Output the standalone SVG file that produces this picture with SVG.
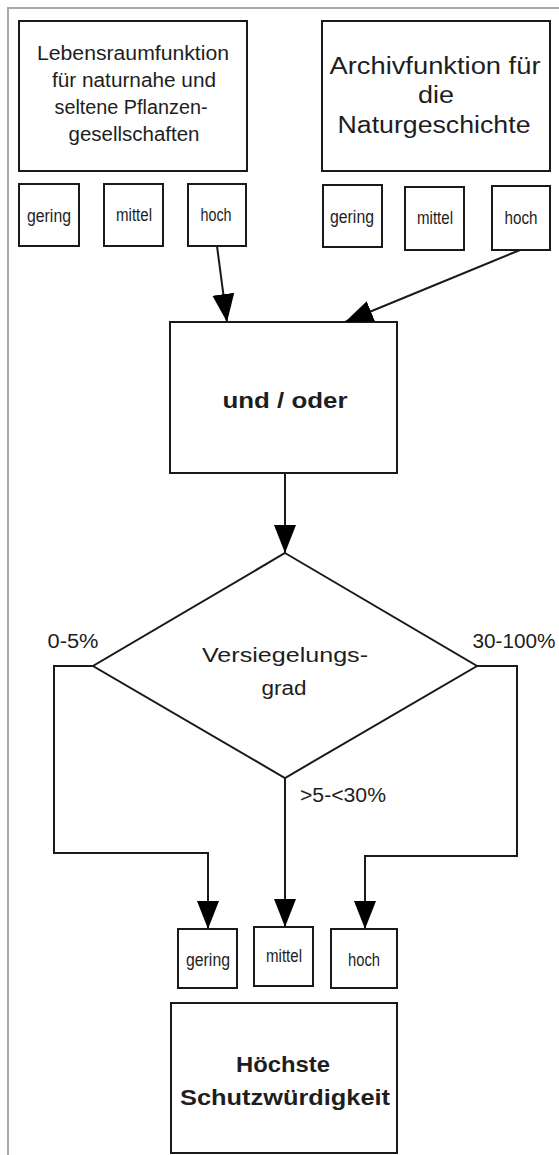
<svg xmlns="http://www.w3.org/2000/svg" width="559" height="1155" viewBox="0 0 559 1155">
<style>
.box{fill:#fff;stroke:#1a1a1a;stroke-width:2}
.ln{fill:none;stroke:#1a1a1a;stroke-width:2}
.t{font-family:"Liberation Sans",Arial,sans-serif;fill:#1e1e1e;text-anchor:middle}
.big{font-size:20px}
.arc{font-size:23px}
.sm{font-size:18px;letter-spacing:0}
.b{font-weight:bold}
</style>
<defs>
<marker id="ah" markerUnits="userSpaceOnUse" markerWidth="30" markerHeight="24" refX="28" refY="11" orient="auto" viewBox="0 0 30 24">
<path d="M0,0 L28,11 L0,22 z" fill="#000"/>
</marker>
</defs>
<rect width="559" height="1155" fill="#fff"/>
<g id="frame"><path d="M8,1155 L8,8 L559,8" fill="none" stroke="#a8a8a8" stroke-width="2"/></g>

<g id="lebensraum">
<rect class="box" x="19" y="21" width="228" height="150"/>
<text class="t big" x="133" y="60" textLength="192" lengthAdjust="spacingAndGlyphs">Lebensraumfunktion</text>
<text class="t big" x="134" y="87" textLength="164" lengthAdjust="spacingAndGlyphs">für naturnahe und</text>
<text class="t big" x="131" y="114" textLength="153" lengthAdjust="spacingAndGlyphs">seltene Pflanzen-</text>
<text class="t big" x="134" y="141" textLength="131" lengthAdjust="spacingAndGlyphs">gesellschaften</text>
</g>
<g id="l-gering"><rect class="box" x="19" y="184" width="60" height="62"/><text class="t sm" x="49" y="222" textLength="44" lengthAdjust="spacingAndGlyphs">gering</text></g>
<g id="l-mittel"><rect class="box" x="104" y="184" width="59" height="62"/><text class="t sm" x="134" y="221" textLength="36" lengthAdjust="spacingAndGlyphs">mittel</text></g>
<g id="l-hoch"><rect class="box" x="188" y="184" width="58" height="62"/><text class="t sm" x="216" y="221" textLength="31" lengthAdjust="spacingAndGlyphs">hoch</text></g>

<g id="archiv">
<rect class="box" x="322" y="21" width="228" height="150"/>
<text class="t arc" x="435" y="74" textLength="211" lengthAdjust="spacingAndGlyphs">Archivfunktion für</text>
<text class="t arc" x="436" y="103" textLength="36" lengthAdjust="spacingAndGlyphs">die</text>
<text class="t arc" x="434" y="133" textLength="193" lengthAdjust="spacingAndGlyphs">Naturgeschichte</text>
</g>
<g id="r-gering"><rect class="box" x="323" y="185" width="59" height="62"/><text class="t sm" x="352" y="223" textLength="44" lengthAdjust="spacingAndGlyphs">gering</text></g>
<g id="r-mittel"><rect class="box" x="405" y="187" width="59" height="63"/><text class="t sm" x="435" y="224" textLength="36" lengthAdjust="spacingAndGlyphs">mittel</text></g>
<g id="r-hoch"><rect class="box" x="492" y="186" width="58" height="64"/><text class="t sm" x="521" y="224" textLength="33" lengthAdjust="spacingAndGlyphs">hoch</text></g>

<g id="undoder">
<rect class="box" x="170" y="322" width="227" height="151"/>
<text class="t b" style="font-size:22px" x="285" y="408" textLength="125" lengthAdjust="spacingAndGlyphs">und / oder</text>
</g>

<g id="versiegelung">
<path class="box" d="M285,553 L477,666 L285,778 L93,666 Z"/>
<text class="t big" x="285" y="662" textLength="166" lengthAdjust="spacingAndGlyphs">Versiegelungs-</text>
<text class="t big" x="284" y="695" textLength="45" lengthAdjust="spacingAndGlyphs">grad</text>
</g>

<g id="b-gering"><rect class="box" x="178" y="929" width="59" height="59"/><text class="t sm" x="208" y="966" textLength="44" lengthAdjust="spacingAndGlyphs">gering</text></g>
<g id="b-mittel"><rect class="box" x="254" y="927" width="59" height="59"/><text class="t sm" x="284" y="962" textLength="36" lengthAdjust="spacingAndGlyphs">mittel</text></g>
<g id="b-hoch"><rect class="box" x="331" y="929" width="66" height="59"/><text class="t sm" x="364" y="966" textLength="32" lengthAdjust="spacingAndGlyphs">hoch</text></g>

<g id="hoechste">
<rect class="box" x="171" y="1003" width="226" height="150"/>
<text class="t b" style="font-size:22px" x="283" y="1072" textLength="94" lengthAdjust="spacingAndGlyphs">Höchste</text>
<text class="t b" style="font-size:22px" x="285" y="1105" textLength="210" lengthAdjust="spacingAndGlyphs">Schutzwürdigkeit</text>
</g>

<g id="connectors">
<path class="ln" d="M217,246 L227,322" marker-end="url(#ah)"/>
<path class="ln" d="M520,250 L345,322" marker-end="url(#ah)"/>
<path class="ln" d="M285,473 L285,553" marker-end="url(#ah)"/>
<path class="ln" d="M93,666 L54,666 L54,853 L208,853 L208,929" marker-end="url(#ah)"/>
<path class="ln" d="M285,778 L285,927" marker-end="url(#ah)"/>
<path class="ln" d="M477,666 L517,666 L517,856 L365,856 L365,929" marker-end="url(#ah)"/>
</g>
<g id="labels">
<text class="t big" x="73" y="648" textLength="51" lengthAdjust="spacingAndGlyphs">0-5%</text>
<text class="t big" x="514" y="648" textLength="83" lengthAdjust="spacingAndGlyphs">30-100%</text>
<text class="t big" x="343" y="802" textLength="86" lengthAdjust="spacingAndGlyphs">&gt;5-&lt;30%</text>
</g>
</svg>
